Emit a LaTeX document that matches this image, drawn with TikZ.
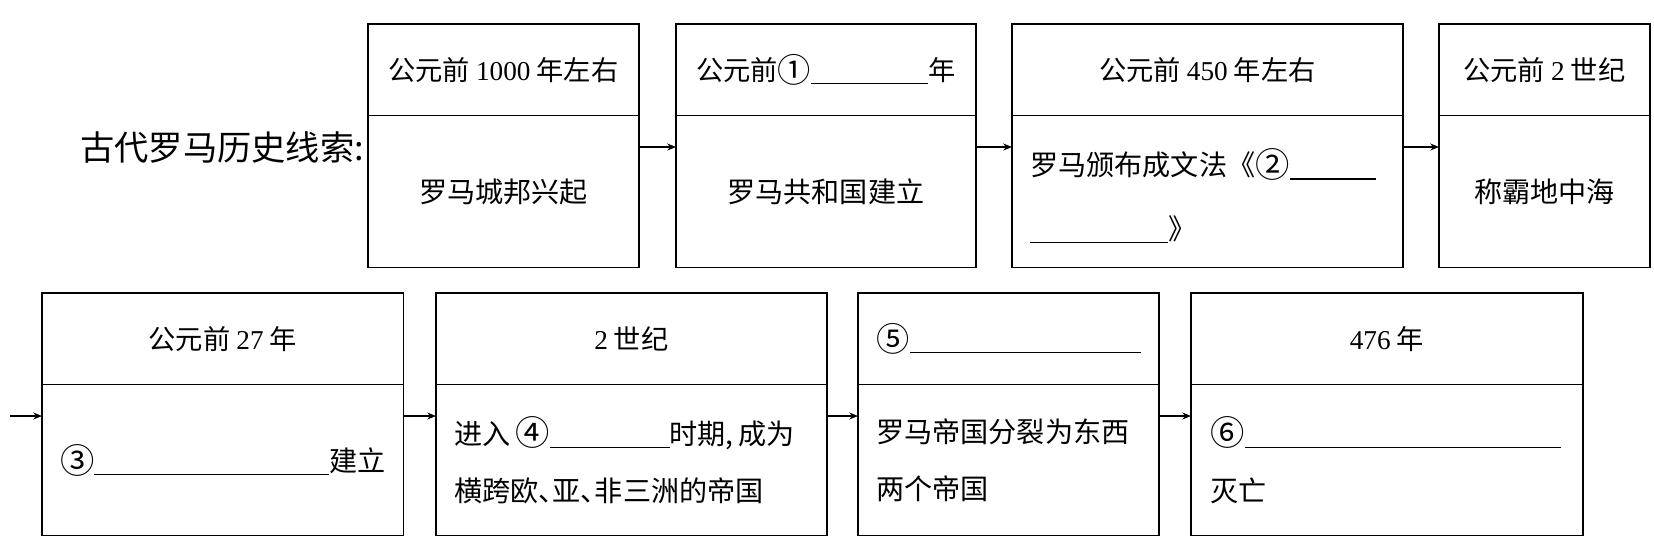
\documentclass[tikz,border=0pt]{standalone}
\usepackage{fontspec}
\setmainfont{Noto Sans CJK SC}
\newfontfamily\num{Liberation Serif}
\usetikzlibrary{arrows.meta,calc}
\newcommand{\blank}[1]{\rule[-2pt]{#1}{0.6pt}}
\newcommand{\cnum}[1]{\raisebox{-0.06em}{\scalebox{1.22}{#1}}}
\tikzset{
 hdr/.style={inner sep=0pt, minimum height=1.82cm, anchor=north west, font=\fontsize{15.5}{20}\selectfont},
 bdy/.style={inner sep=0pt, minimum height=3.02cm, anchor=north west, font=\fontsize{16}{20}\selectfont},
 bdyb/.style={bdy, minimum height=3.0cm},
 txt/.style={inner sep=0pt, anchor=west, align=left, font=\fontsize{16}{32.4}\selectfont},
 htxt/.style={inner sep=0pt, anchor=west, font=\fontsize{15.5}{20}\selectfont},
 frame/.style={line width=0.9pt},
 divider/.style={line width=0.6pt},
 arr/.style={line width=0.6pt, -{Stealth[length=5pt,width=4pt]}},
}
\begin{document}
\begin{tikzpicture}
\useasboundingbox (0,0) rectangle (33.08,-10.90);
\node[anchor=west, inner sep=0pt, font=\fontsize{19.5}{24}\selectfont] (title) at (1.6,-2.94) {古代罗马历史线索:};

% Row 1
\node[hdr, minimum width=5.40cm] (h1) at (7.36,-0.48) {公元前 {\num 1000} 年左右};
\node[bdy, minimum width=5.40cm] (d1) at (h1.south west) {罗马城邦兴起};

\node[hdr, minimum width=5.98cm] (h2) at (13.52,-0.48) {公元前\cnum{①}\blank{2.34cm}年};
\node[bdy, minimum width=5.98cm] (d2) at (h2.south west) {罗马共和国建立};

\node[hdr, minimum width=7.80cm] (h3) at (20.24,-0.48) {公元前 {\num 450} 年左右};
\node[bdy, minimum width=7.80cm] (d3) at (h3.south west) {};
\node[txt, font=\fontsize{16}{36.4}\selectfont] (t3) at ($(d3.west)+(0.36,-0.09)$) {罗马颁布成文法《\cnum{②}\blank{1.72cm}\\\blank{2.76cm}》};

\node[hdr, minimum width=4.20cm] (h4) at (28.78,-0.48) {公元前 {\num 2} 世纪};
\node[bdy, minimum width=4.20cm] (d4) at (h4.south west) {称霸地中海};

% Row 2
\node[hdr, minimum width=7.22cm] (h5) at (0.84,-5.86) {公元前 {\num 27} 年};
\node[bdyb, minimum width=7.22cm] (d5) at (h5.south west) {\cnum{③}\blank{4.7cm}建立};

\node[hdr, minimum width=7.80cm] (h6) at (8.72,-5.86) {{\num 2} 世纪};
\node[bdyb, minimum width=7.80cm] (d6) at (h6.south west) {};
\node[txt] (t6) at ($(d6.west)+(0.36,0)$) {进入\,\cnum{④}\blank{2.4cm}时期,\,成为\\横跨欧、\kern-.5em 亚、\kern-.5em 非三洲的帝国};

\node[hdr, minimum width=6.00cm] (h7) at (17.16,-5.86) {};
\node[htxt] (th7) at ($(h7.west)+(0.36,0)$) {\cnum{⑤}\blank{4.62cm}};
\node[bdyb, minimum width=6.00cm] (d7) at (h7.south west) {};
\node[txt] (t7) at ($(d7.west)+(0.36,0)$) {罗马帝国分裂为东西\\两个帝国};

\node[hdr, minimum width=7.82cm] (h8) at (23.82,-5.86) {{\num 476} 年};
\node[bdyb, minimum width=7.82cm] (d8) at (h8.south west) {};
\node[txt] (t8) at ($(d8.west)+(0.38,0)$) {\cnum{⑥}\blank{6.32cm}\\灭亡};

% frames and dividers
\foreach \i in {1,...,8} {
  \draw[frame] (h\i.north west) rectangle (d\i.south east);
  \draw[divider] (h\i.south west) -- (h\i.south east);
}

% arrows
\coordinate (r1) at (0,-2.94);
\coordinate (r2) at (0,-8.32);
\coordinate (start) at (0.2,-8.32);
\draw[arr] (d1.east |- r1) -- (d2.west |- r1);
\draw[arr] (d2.east |- r1) -- (d3.west |- r1);
\draw[arr] (d3.east |- r1) -- (d4.west |- r1);
\draw[arr] (start) -- (d5.west |- r2);
\draw[arr] (d5.east |- r2) -- (d6.west |- r2);
\draw[arr] (d6.east |- r2) -- (d7.west |- r2);
\draw[arr] (d7.east |- r2) -- (d8.west |- r2);
\end{tikzpicture}
\end{document}
